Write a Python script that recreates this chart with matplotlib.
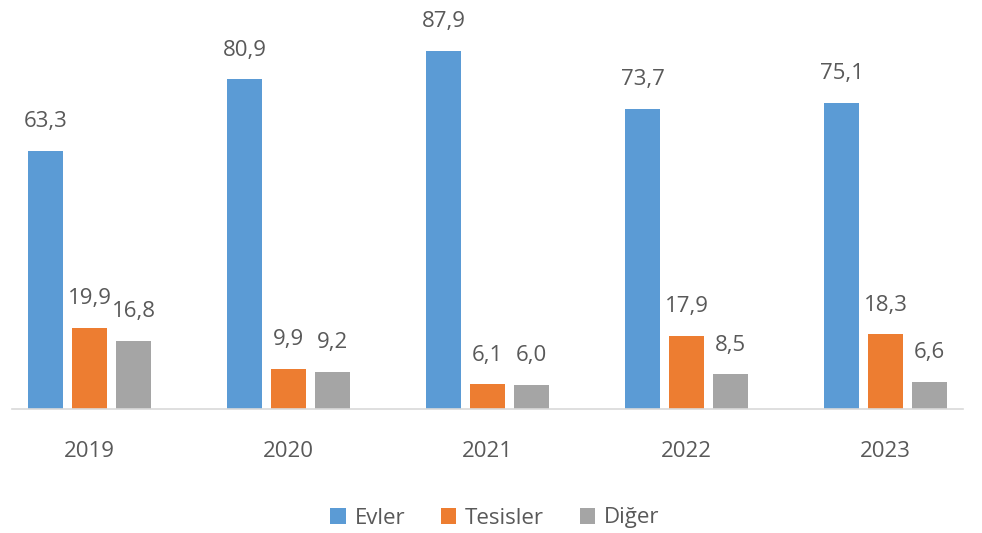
import matplotlib.pyplot as plt
import numpy as np

years = ['2019', '2020', '2021', '2022', '2023']
evler = [63.3, 80.9, 87.9, 73.7, 75.1]
tesisler = [19.9, 9.9, 6.1, 17.9, 18.3]
diger = [16.8, 9.2, 6.0, 8.5, 6.6]

series = [('Evler', evler, '#5B9BD5'),
          ('Tesisler', tesisler, '#ED7D31'),
          ('Diğer', diger, '#A5A5A5')]

plt.rcParams['font.family'] = ['Open Sans', 'DejaVu Sans']
text_color = '#595959'

fig = plt.figure(figsize=(9.82, 5.33), dpi=100)
ax = fig.add_axes([12 / 982, 124 / 533, 951 / 982, 407.6 / 533])

x = np.arange(len(years))
width = 0.176
step = 0.221
for i, (name, vals, color) in enumerate(series):
    pos = x + (i - 1) * step
    bars = ax.bar(pos, vals, width, color=color, label=name)
    for b, v in zip(bars, vals):
        ax.annotate(f'{v:.1f}'.replace('.', ','), (b.get_x() + b.get_width() / 2, v),
                    xytext=(0, 17), textcoords='offset points', ha='center', va='baseline',
                    fontsize=16, color=text_color)

ax.set_xlim(-0.39, 4.39)
ax.set_ylim(0, 100)
ax.set_xticks(x)
ax.set_xticklabels(years, fontsize=16, color=text_color)
ax.tick_params(axis='x', length=0, pad=23)
ax.set_yticks([])
for s in ['top', 'right', 'left']:
    ax.spines[s].set_visible(False)
ax.spines['bottom'].set_color('#D9D9D9')
ax.spines['bottom'].set_linewidth(1.2)

leg = fig.legend(loc='center', bbox_to_anchor=(0.504, 15 / 533), ncol=3, frameon=False,
                 fontsize=16, handlelength=0.7, handleheight=0.7, handletextpad=0.4,
                 columnspacing=1.6)
for t in leg.get_texts():
    t.set_color(text_color)

fig.savefig('out.png', dpi=100)
